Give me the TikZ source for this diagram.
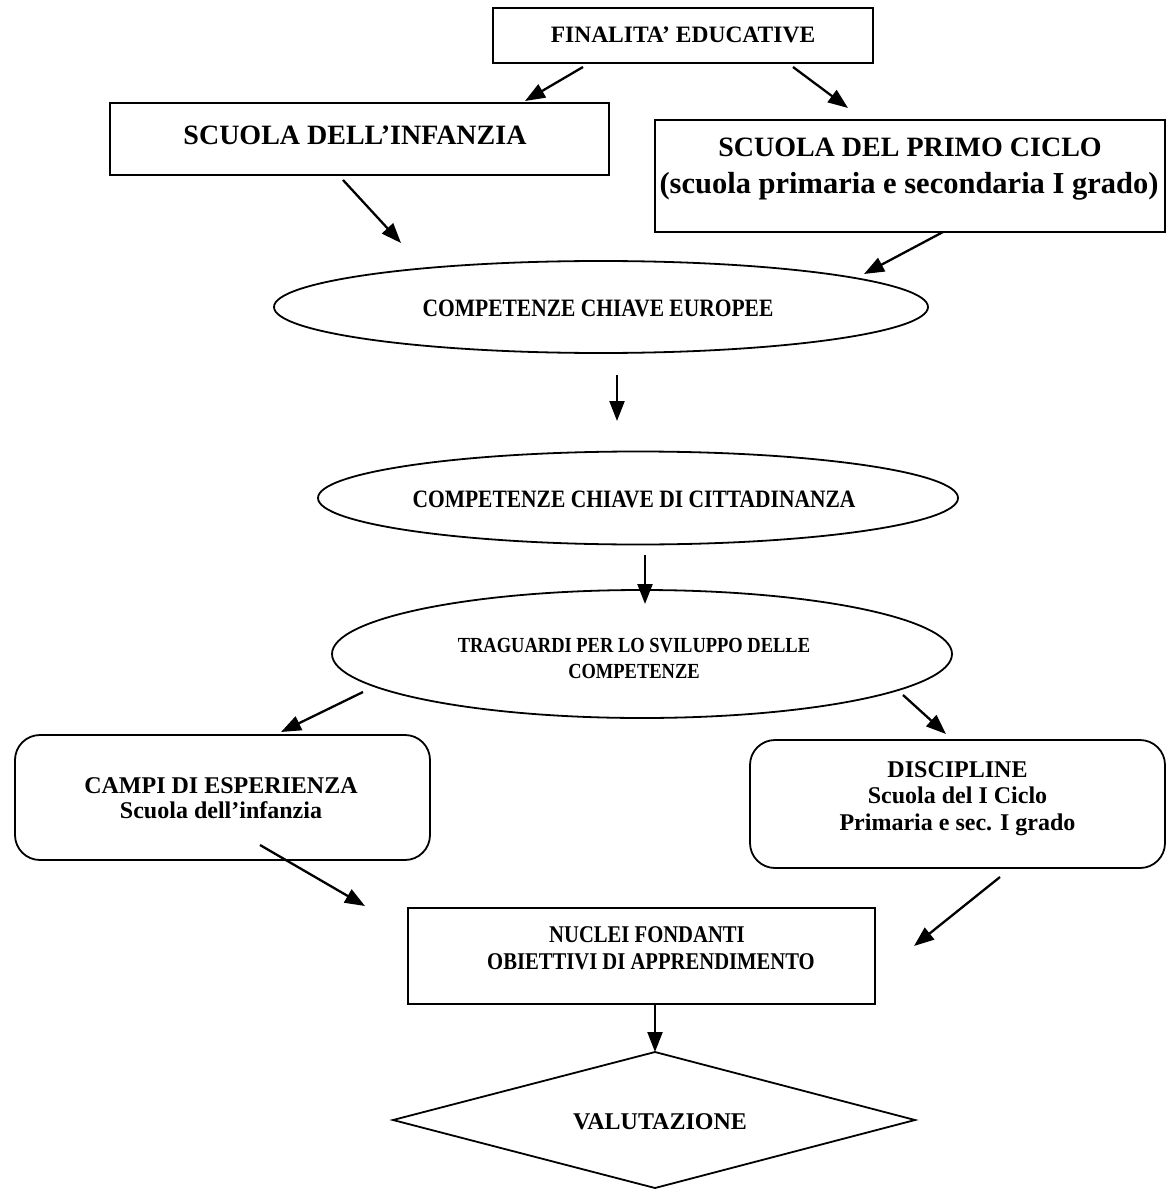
\documentclass[tikz,border=0pt]{standalone}
\usepackage{fontspec}
\setmainfont{Liberation Serif}
\newfontfamily\condfont{Liberation Serif}[FakeStretch=0.86]
\usetikzlibrary{shapes.geometric,arrows.meta}
\tikzset{
  box/.style={draw, line width=1.8pt, rectangle, inner sep=0pt},
  rbox/.style={draw, line width=1.8pt, rectangle, rounded corners=25pt, inner sep=0pt},
  oval/.style={draw, line width=1.8pt, ellipse, inner sep=0pt},
  lbl/.style={inner sep=0pt, anchor=base},
  conn/.style={line width=2.3pt, -{Triangle[length=20pt,width=15pt]}},
}
\newcommand{\normsz}[1]{\bfseries\fontsize{#1}{#1}\selectfont}
\newcommand{\condsz}[1]{\condfont\bfseries\fontsize{#1}{#1}\selectfont}
\begin{document}
\begin{tikzpicture}[x=1pt,y=-1pt]
\useasboundingbox[fill=white] (0,0) rectangle (1169,1190);

% shapes
\node[box, minimum width=380pt, minimum height=55pt] (fin) at (683,35.5) {};
\node[box, minimum width=499pt, minimum height=72pt] (inf) at (359.5,139) {};
\node[box, minimum width=510pt, minimum height=112pt] (primo) at (910,176) {};
\node[oval, minimum width=654pt, minimum height=92pt] (e1) at (601,307) {};
\node[oval, minimum width=640pt, minimum height=93pt] (e2) at (638,498) {};
\node[oval, minimum width=620pt, minimum height=128pt] (e3) at (642,654) {};
\node[rbox, minimum width=415pt, minimum height=125pt] (campi) at (222.5,797.5) {};
\node[rbox, minimum width=415pt, minimum height=128pt] (disc) at (957.5,804) {};
\node[box, minimum width=467pt, minimum height=96pt] (nuc) at (641.5,956) {};
\draw[line width=1.8pt] (655,1052) coordinate (dtop) -- (915,1120) coordinate (dright)
  -- (655,1188) coordinate (dbot) -- (393,1120) coordinate (dleft) -- cycle;

% texts
\node[lbl, font=\normsz{23.5}] (finT) at (683,43) {FINALITA’ EDUCATIVE};
\node[lbl, font=\normsz{28}] (infT) at (355,145) {SCUOLA DELL’INFANZIA};
\node[lbl, font=\normsz{28}] (primoT1) at (910,157) {SCUOLA DEL PRIMO CICLO};
\node[lbl, font=\normsz{30.5}] (primoT2) at (909,194) {(scuola primaria e secondaria I grado)};
\node[lbl, font=\condsz{25}] (e1T) at (598,316) {COMPETENZE CHIAVE EUROPEE};
\node[lbl, font=\condsz{25}] (e2T) at (634,507) {COMPETENZE CHIAVE DI CITTADINANZA};
\node[lbl, font=\condsz{21.5}] (e3T1) at (634,652) {TRAGUARDI PER LO SVILUPPO DELLE};
\node[lbl, font=\condsz{21.5}] (e3T2) at (634,678) {COMPETENZE};
\node[lbl, font=\normsz{24}] (campiT1) at (221,793) {CAMPI DI ESPERIENZA};
\node[lbl, font=\normsz{24}] (campiT2) at (221,818) {Scuola dell’infanzia};
\node[lbl, font=\normsz{24}] (discT1) at (957.5,777) {DISCIPLINE};
\node[lbl, font=\normsz{24}] (discT2) at (957.5,803) {Scuola del I Ciclo};
\node[lbl, font=\normsz{24}] (discT3) at (957.5,830) {Primaria e sec. I grado};
\node[lbl, font=\condsz{24}] (nucT1) at (647,942) {NUCLEI FONDANTI};
\node[lbl, font=\condsz{24}] (nucT2) at (651,969) {OBIETTIVI DI APPRENDIMENTO};
\node[lbl, font=\normsz{24}] (valT) at (660,1129) {VALUTAZIONE};

% connector end points
\coordinate (a1s) at (583,67);   \coordinate (a1e) at (525,101);
\coordinate (a2s) at (793,67);   \coordinate (a2e) at (848,108);
\coordinate (a3s) at (343,180);  \coordinate (a3e) at (401,243);
\coordinate (a4s) at (943,232);  \coordinate (a4e) at (864,274);
\coordinate (a5s) at (617,375);  \coordinate (a5e) at (617,421);
\coordinate (a6s) at (645,555);  \coordinate (a6e) at (645,604);
\coordinate (a7s) at (363,692);  \coordinate (a7e) at (281,732);
\coordinate (a8s) at (903,695);  \coordinate (a8e) at (946,734);
\coordinate (a9s) at (260,845);  \coordinate (a9e) at (365,906);
\coordinate (a10s) at (1000,877); \coordinate (a10e) at (914,946);
\coordinate (a11s) at (655,1005); \coordinate (a11e) at (dtop);

\foreach \i in {1,...,11} \draw[conn] (a\i s) -- (a\i e);
\end{tikzpicture}
\end{document}
